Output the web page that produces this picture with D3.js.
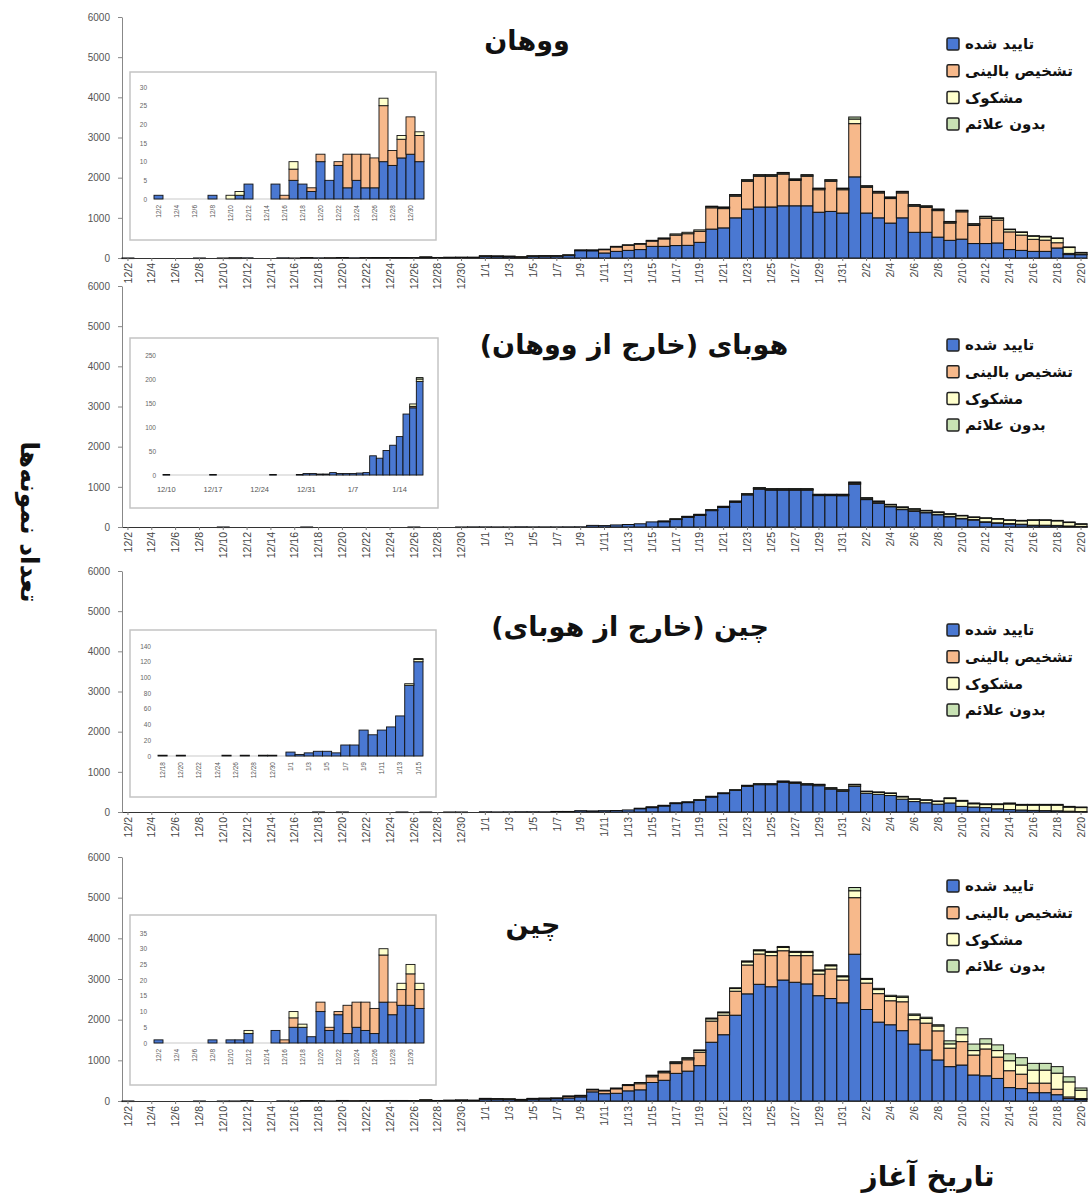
<!DOCTYPE html>
<html><head><meta charset="utf-8">
<script src="https://cdn.jsdelivr.net/npm/d3@7"></script>
<style>body{margin:0;background:#fff}</style>
</head><body><svg id="c" width="1089" height="1198"></svg>
<script>
const dates = ["12/2","12/3","12/4","12/5","12/6","12/7","12/8","12/9","12/10","12/11","12/12","12/13","12/14","12/15","12/16","12/17","12/18","12/19","12/20","12/21","12/22","12/23","12/24","12/25","12/26","12/27","12/28","12/29","12/30","12/31",
"1/1","1/2","1/3","1/4","1/5","1/6","1/7","1/8","1/9","1/10","1/11","1/12","1/13","1/14","1/15","1/16","1/17","1/18","1/19","1/20","1/21","1/22","1/23","1/24","1/25","1/26","1/27","1/28","1/29","1/30","1/31",
"2/1","2/2","2/3","2/4","2/5","2/6","2/7","2/8","2/9","2/10","2/11","2/12","2/13","2/14","2/15","2/16","2/17","2/18","2/19","2/20"];

const seriesLabels = ["تایید شده","تشخیص بالینی","مشکوک","بدون علائم"];
const panelTitles = ["ووهان","هوبای (خارج از ووهان)","چین (خارج از هوبای)","چین"];
const yTitle = "تعداد نمونه‌ها";
const xTitle = "تاریخ آغاز";
const yTicks = [0,1000,2000,3000,4000,5000,6000];

// Wuhan
const wuhanConfirmed = [1,0,0,0,0,0,1,0,0,1, 4,0,0,4,0,5,4,2,10,5, 9,3,5,3,3,10,9,11,12,10,
 45,40,35,25,45,50,40,60,185,180, 125,165,190,210,290,290,310,315,390,720, 750,1000,1220,1270,1270,1300,1300,1300,1140,1160,1120,
 2020,1120,1000,870,1000,640,640,520,440,470,360,360,375,210,190,165,165,250,85,85];
const wuhanClinical = [0,0,0,0,0,0,0,0,0,0, 0,0,0,0,1,3,0,1,2,0, 1,9,7,9,8,15,4,5,10,7,
 8,8,8,4,8,8,15,15,10,15, 85,110,125,135,130,185,260,290,275,530, 480,540,690,765,765,790,630,735,560,750,580,
 1325,640,620,610,620,650,620,660,430,680,450,630,570,440,380,300,280,130,30,10];
const wuhanSuspected = [0,0,0,0,0,0,0,0,1,1, 0,0,0,0,0,2,0,0,0,0, 0,0,0,0,0,2,0,1,0,1,
 2,2,2,1,2,2,5,5,5,5, 10,15,15,15,20,25,30,35,35,30, 30,30,30,30,30,30,30,30,30,30,30,
 115,30,30,30,30,30,30,30,30,30,35,40,45,60,70,80,85,110,150,40];
const wuhanAsymptomatic = [0,0,0,0,0,0,0,0,0,0, 0,0,0,0,0,0,0,0,0,0, 0,0,0,0,0,0,0,0,0,0,
 0,0,0,0,0,0,0,0,0,0, 0,0,0,0,0,0,0,0,0,10, 10,10,10,10,10,10,10,10,10,10,10,
 50,10,10,10,10,10,10,10,10,10,10,10,10,10,10,10,10,10,10,5];

// Hubei outside Wuhan
const hubeiConfirmed = [0,0,0,0,0,0,0,0,1,0, 0,0,0,0,0,1,0,0,0,0, 0,0,0,0,1,0,0,0,1,3,
 3,2,2,5,3,3,3,4,5,40, 35,51,62,80,127,140,195,255,300,415, 495,625,805,950,925,925,925,925,790,790,785,
 1070,690,600,510,440,400,360,310,260,210,180,125,100,80,65,40,40,35,20,10];
const hubeiClinical = [0,0,0,0,0,0,0,0,0,0, 0,0,0,0,0,0,0,0,0,0, 0,0,0,0,0,0,0,0,0,0,
 0,0,0,0,0,0,0,0,0,0, 0,0,0,0,0,3,0,3,5,5, 5,5,5,5,5,5,5,5,5,5,5,
 10,5,5,5,5,5,5,5,5,5,5,5,5,5,5,5,5,5,5,5];
const hubeiSuspected = [0,0,0,0,0,0,0,0,0,0, 0,0,0,0,0,0,0,0,0,0, 0,0,0,0,0,0,0,0,0,0,
 0,0,0,0,0,0,0,0,0,0, 0,0,0,0,0,5,5,5,8,8, 12,12,15,20,20,20,20,20,15,15,20,
 30,30,35,45,50,45,45,55,60,70,60,90,95,85,85,125,125,115,90,60];
const hubeiAsymptomatic = [0,0,0,0,0,0,0,0,0,0, 0,0,0,0,0,0,0,0,0,0, 0,0,0,0,0,0,0,0,0,0,
 0,0,0,0,0,0,0,0,0,0, 0,0,0,0,0,0,3,2,2,2, 3,3,5,5,5,5,5,5,5,5,5,
 10,5,5,5,5,5,5,5,5,5,5,10,10,10,10,10,10,10,10,5];

// China outside Hubei
const outsideConfirmed = [0,0,0,0,0,0,0,0,0,0, 0,0,0,0,0,0,1,0,1,0, 0,0,0,1,0,1,0,1,1,0,
 5,2,4,6,6,4,14,14,33,27, 33,37,51,90,120,160,218,242,295,378, 460,535,640,680,680,740,715,675,655,570,515,
 640,465,440,410,320,260,230,195,225,140,125,110,80,60,50,40,35,30,20,10];
const outsideClinical = [0,0,0,0,0,0,0,0,0,0, 0,0,0,0,0,0,0,0,0,0, 0,0,0,0,0,0,0,0,0,0,
 0,0,0,0,0,0,0,0,0,0, 0,0,0,0,0,0,0,0,0,0, 0,0,0,0,0,0,0,0,0,0,0,
 0,0,0,0,0,0,0,0,0,0,0,0,0,0,0,0,0,0,0,0];
const outsideSuspected = [0,0,0,0,0,0,0,0,0,0, 0,0,0,0,0,0,0,0,0,0, 0,0,0,0,0,0,0,0,0,0,
 0,0,0,0,0,0,0,0,0,0, 0,0,0,2,3,4,5,6,8,10, 12,15,20,20,20,25,25,25,30,30,35,
 40,45,50,55,60,60,65,70,110,130,80,75,105,140,120,130,135,140,100,100];
const outsideAsymptomatic = [0,0,0,0,0,0,0,0,0,0, 0,0,0,0,0,0,0,0,0,0, 0,0,0,0,0,0,0,0,0,0,
 0,0,0,0,0,0,0,0,0,0, 0,0,0,0,1,1,2,2,2,2, 3,5,5,5,5,5,5,5,5,5,5,
 10,10,10,10,10,10,10,10,20,20,20,20,20,25,20,20,20,20,20,15];

// China
const chinaConfirmed = [1,0,0,0,0,0,1,0,1,1, 3,0,0,4,0,5,5,2,10,4, 9,3,5,4,3,13,9,12,12,11,
 50,45,40,30,50,55,60,75,100,225, 180,190,250,275,455,510,680,735,870,1445, 1630,2110,2635,2870,2810,2975,2920,2880,2590,2520,2415,
 3610,2250,1940,1875,1730,1400,1255,1010,845,885,640,620,555,330,305,205,205,155,60,35];
const chinaClinical = [0,0,0,0,0,0,0,0,0,0, 0,0,0,0,1,3,0,0,3,1, 1,9,8,9,8,15,4,5,10,6,
 10,10,10,6,10,10,10,40,30,50, 70,110,130,150,140,185,240,280,330,520, 480,590,710,745,765,720,655,695,530,725,560,
 1390,650,700,590,710,600,660,715,455,575,490,660,525,415,355,235,235,135,40,25];
const chinaSuspected = [0,0,0,0,0,0,0,0,0,0, 1,0,0,0,0,2,1,0,0,0, 0,0,0,0,0,2,0,2,3,2,
 5,5,5,4,5,5,5,10,10,15, 15,20,25,30,30,30,35,40,45,55, 60,65,75,80,80,80,80,80,80,80,80,
 170,90,100,105,110,110,115,120,105,170,110,125,160,245,225,320,320,395,370,205];
const chinaAsymptomatic = [0,0,0,0,0,0,0,0,0,0, 0,0,0,0,0,0,0,0,0,0, 0,0,0,0,0,0,0,0,0,0,
 0,0,0,0,0,0,0,0,0,0, 0,0,0,0,10,10,10,10,10,20, 20,20,25,25,25,25,25,25,25,25,25,
 80,25,30,30,30,30,30,30,75,170,160,125,140,170,180,165,165,160,125,55];

// inset ranges (date windows and axis maxima)
const insetStart = ["12/2","12/10","12/18","12/2"];
const insetEnd = ["12/31","1/17","1/15","12/31"];
const insetMax = [30,250,140,35];
const insetStep = [5,50,20,5];
const insetLabelEvery = [2,7,2,2];

// ---------- drawing ----------
const keys = ["confirmed","clinical","suspected","asymptomatic"];
const colors = ["#4a78d2","#f7b98b","#ffffcc","#c8e2b4"];
const arabicFont = "'DejaVu Sans', sans-serif";
const latinFont = "'Liberation Sans', Arial, sans-serif";

const panelArrays = [
  [wuhanConfirmed, wuhanClinical, wuhanSuspected, wuhanAsymptomatic],
  [hubeiConfirmed, hubeiClinical, hubeiSuspected, hubeiAsymptomatic],
  [outsideConfirmed, outsideClinical, outsideSuspected, outsideAsymptomatic],
  [chinaConfirmed, chinaClinical, chinaSuspected, chinaAsymptomatic]
];

const layout = [
  {top:17, bottom:258, titleX:527, titleY:50, legendY:44, labelRot:true,
   box:[130,72,306,168], ix0:154, ix1:424, iy0:199, iy1:87},
  {top:286, bottom:527, titleX:634, titleY:354, legendY:345, labelRot:false,
   box:[130,338,308,170], ix0:163, ix1:423, iy0:475, iy1:355},
  {top:571, bottom:812, titleX:630, titleY:636, legendY:630, labelRot:true,
   box:[130,630,306,167], ix0:158, ix1:423, iy0:756, iy1:646},
  {top:857, bottom:1101, titleX:533, titleY:934, legendY:886, labelRot:true,
   box:[130,915,306,170], ix0:154, ix1:424, iy0:1043, iy1:933}
];

const svg = d3.select("#c");
const stack = d3.stack().keys(keys);

function makeRows(arrs){
  return dates.map((d,i)=>({date:d, confirmed:arrs[0][i], clinical:arrs[1][i], suspected:arrs[2][i], asymptomatic:arrs[3][i]}));
}

function drawBars(g, data, x, y, sw){
  const st = stack(data);
  g.selectAll("g.s").data(st).join("g").attr("class","s").attr("fill",(d,i)=>colors[i])
    .selectAll("rect").data(d=>d.filter(p=>p[1]-p[0]>0)).join("rect")
    .attr("x",d=>x(d.data.date)).attr("width",x.bandwidth())
    .attr("y",d=>y(d[1])).attr("height",d=>Math.max(0.6,y(d[0])-y(d[1])))
    .attr("stroke","#111").attr("stroke-width",sw);
}

layout.forEach((L,pi)=>{
  const rows = makeRows(panelArrays[pi]);
  const g = svg.append("g");
  const x = d3.scaleBand().domain(dates).range([122,1087]).padding(0);
  const y = d3.scaleLinear().domain([0,6000]).range([L.bottom, L.top]);

  // y axis
  const ya = g.append("g").attr("transform","translate(122,0)")
    .call(d3.axisLeft(y).tickValues(yTicks).tickSize(4).tickSizeOuter(0).tickPadding(8).tickFormat(d3.format("d")));
  ya.select(".domain").attr("stroke","#888");
  ya.selectAll(".tick line").attr("stroke","#888");
  ya.selectAll("text").attr("font-family",latinFont).attr("font-size",10).attr("fill","#555");

  // bars
  drawBars(g.append("g"), rows, x, y, 1);

  // x axis
  const xa = g.append("g").attr("transform",`translate(0,${L.bottom})`)
    .call(d3.axisBottom(x).tickValues(dates.filter((d,i)=>i%2===0)).tickSize(3).tickSizeOuter(0));
  xa.select(".domain").attr("stroke","#333");
  xa.selectAll(".tick line").attr("stroke","#777");
  xa.selectAll("text").attr("font-family",latinFont).attr("font-size",10.5).attr("fill","#444")
    .attr("transform","rotate(-90)").attr("text-anchor","end")
    .attr("x",-5).attr("y",0).attr("dy","0.35em");

  // inset
  const [bx,by,bw,bh] = L.box;
  const ig = g.append("g");
  ig.append("rect").attr("x",bx).attr("y",by).attr("width",bw).attr("height",bh)
    .attr("fill","#fff").attr("stroke","#c4c4c4").attr("stroke-width",1.5);
  const s0 = dates.indexOf(insetStart[pi]), s1 = dates.indexOf(insetEnd[pi]);
  const idates = dates.slice(s0, s1+1);
  const irows = rows.slice(s0, s1+1);
  const ix = d3.scaleBand().domain(idates).range([L.ix0, L.ix1]).padding(0);
  const iy = d3.scaleLinear().domain([0, insetMax[pi]]).range([L.iy0, L.iy1]);
  const iya = ig.append("g").attr("transform",`translate(${L.ix0},0)`)
    .call(d3.axisLeft(iy).tickValues(d3.range(0, insetMax[pi]+1, insetStep[pi])).tickSize(0).tickPadding(7));
  iya.select(".domain").remove();
  iya.selectAll("text").attr("font-family",latinFont).attr("font-size",6.5).attr("fill","#666");
  ig.append("line").attr("x1",L.ix0).attr("x2",L.ix1).attr("y1",L.iy0).attr("y2",L.iy0)
    .attr("stroke","#bbb").attr("stroke-width",0.8);
  drawBars(ig.append("g"), irows, ix, iy, 0.9);
  const every = insetLabelEvery[pi];
  const ixa = ig.append("g").attr("transform",`translate(0,${L.iy0})`)
    .call(d3.axisBottom(ix).tickValues(idates.filter((d,i)=>i%every===0)).tickSize(0).tickPadding(10));
  ixa.select(".domain").remove();
  ixa.selectAll("text").attr("font-family",latinFont).attr("font-size",L.labelRot?6.5:7.5).attr("fill","#555");
  if (L.labelRot) {
    ixa.selectAll("text").attr("transform","rotate(-90)").attr("text-anchor","end")
      .attr("x",-6).attr("y",0).attr("dy","0.35em");
  } else {
    ixa.selectAll("text").attr("y",12);
  }

  // title
  g.append("text").attr("x",L.titleX).attr("y",L.titleY).attr("text-anchor","middle")
    .attr("font-family",arabicFont).attr("font-weight","bold").attr("font-size",27).attr("fill","#111")
    .text(panelTitles[pi]);

  // legend
  const lg = g.append("g");
  seriesLabels.forEach((lab,i)=>{
    const cy = L.legendY + i*26.7;
    lg.append("rect").attr("x",947).attr("y",cy-6).attr("width",12).attr("height",12)
      .attr("fill",colors[i]).attr("stroke","#222").attr("stroke-width",1.5).attr("rx",1.5);
    lg.append("text").attr("x",965).attr("y",cy).attr("dy","0.35em")
      .attr("font-family",arabicFont).attr("font-weight","bold").attr("font-size",15).attr("fill","#111")
      .text(lab);
  });
});

// axis titles
svg.append("text").attr("transform","translate(30,522) rotate(90)").attr("text-anchor","middle")
  .attr("dy","0.35em").attr("font-family",arabicFont).attr("font-weight","bold").attr("font-size",25).attr("fill","#111")
  .text(yTitle);
svg.append("text").attr("x",928).attr("y",1186).attr("text-anchor","middle")
  .attr("font-family",arabicFont).attr("font-weight","bold").attr("font-size",28).attr("fill","#111")
  .text(xTitle);
</script></body></html>
